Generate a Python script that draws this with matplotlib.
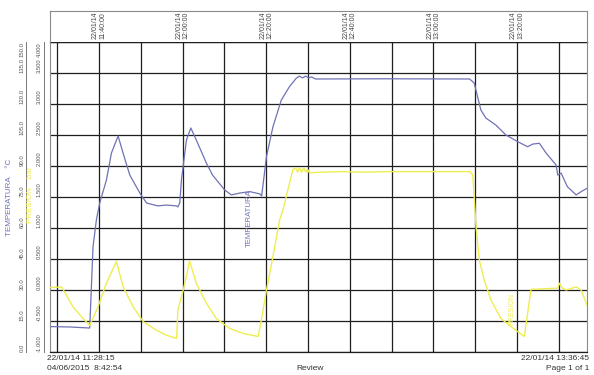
import matplotlib
matplotlib.use("Agg")
import matplotlib.pyplot as plt
import matplotlib.transforms as mtransforms
from matplotlib.lines import Line2D

plt.rcParams['font.family'] = ['Liberation Sans', 'DejaVu Sans']

# ====== Data (minutes after 22/01/14 11:28:15) ======
temp_t = [0.0, 4.8, 9.5, 10.3, 11.1, 11.9, 13.5, 14.7, 16.3, 17.7, 19.1, 21.5, 23.1,
          25.8, 27.9, 30.3, 30.6, 31.05, 31.45, 32.65, 33.7, 35.0, 37.4, 38.9, 41.8,
          43.4, 45.4, 47.8, 50.2, 50.65, 51.8, 53.35, 55.35, 57.3, 58.9, 59.7, 60.4,
          61.2, 61.9, 62.6, 63.5, 80.0, 100.4, 101.5, 103.1, 104.3, 106.7, 109.1, 111.9,
          114.3, 115.5, 117.1, 118.7, 121.1, 121.5, 122.3, 123.8, 125.9, 127.1, 128.5]
temp_c = [12.3, 12.1, 11.6, 51.0, 63.9, 72.1, 83.2, 96.3, 104.5, 94.8, 85.6, 76.9, 72.1,
          70.7, 71.1, 70.7, 70.2, 72.1, 83.2, 102.6, 108.4, 102.6, 91.5, 85.6, 78.4,
          76.0, 76.9, 77.6, 76.5, 75.5, 94.5, 109.0, 121.9, 128.4, 132.4, 133.5, 132.6,
          133.5, 132.6, 133.1, 132.1, 132.2, 132.1, 130.2, 117.1, 113.2, 109.8, 105.0, 101.8,
          99.3, 100.6, 101.0, 96.3, 90.5, 85.6, 86.6, 80.0, 76.0, 77.6, 79.2]

pres_t = [0.0, 2.8, 5.5, 7.9, 9.5, 11.5, 13.5, 15.9, 17.5, 19.9, 22.3, 25.5, 27.9,
          30.3, 30.6, 31.7, 32.65, 33.4, 35.0, 37.4, 39.8, 43.0, 46.2, 49.8, 50.6,
          51.8, 53.35, 54.95, 55.75, 58.1, 58.8, 59.25, 59.7, 60.2, 60.7, 61.2, 61.6,
          62.1, 65.0, 70.0, 75.0, 81.2, 90.0, 100.4, 101.15, 101.55, 101.95, 102.75, 103.9,
          105.5, 107.9, 110.3, 111.9, 113.5, 114.3, 115.1, 118.3, 121.5, 121.9, 122.6,
          123.5, 125.9, 127.1, 128.5]
pres_bar = [0.04, 0.05, -0.27, -0.46, -0.57, -0.27, 0.11, 0.46, 0.05, -0.27, -0.51, -0.65, -0.73,
            -0.78, -0.32, -0.05, 0.22, 0.47, 0.11, -0.21, -0.46, -0.62, -0.70, -0.75, -0.48,
            0.0, 0.54, 1.13, 1.29, 1.94, 1.97, 1.90, 1.97, 1.90, 1.97, 1.90, 1.95,
            1.89, 1.90, 1.91, 1.90, 1.91, 1.91, 1.91, 1.86, 1.45, 1.02, 0.48, 0.16,
            -0.16, -0.46, -0.59, -0.67, -0.75, -0.37, 0.01, 0.02, 0.03, 0.11, 0.03,
            0.0, 0.05, 0.0, -0.24]

temp_ticks = [0.0, 15.0, 30.0, 45.0, 60.0, 75.0, 90.0, 105.0, 120.0, 135.0, 150.0]
pres_ticks = [-1.0, -0.5, 0.0, 0.5, 1.0, 1.5, 2.0, 2.5, 3.0, 3.5, 4.0]
grid_minutes = [1.75, 11.75, 21.75, 31.75, 41.75, 51.75, 61.75, 71.75, 81.75, 91.75,
                101.75, 111.75, 121.75]
header_minutes = [11.75, 31.75, 51.75, 71.75, 91.75, 111.75]
header_labels = ["22/01/14\n11:40:00", "22/01/14\n12:00:00", "22/01/14\n12:20:00",
                 "22/01/14\n12:40:00", "22/01/14\n13:00:00", "22/01/14\n13:20:00"]
t_end = 128.5

W, H = 594, 375
BLUE = "#6f72b5"
YELLOW = "#eeee50"
FRAME = "#8a8a8a"
GRID = "#1e1e1e"


def fx(px):
    return px / W


def fy(py):
    return 1 - py / H


fig = plt.figure(figsize=(W / 100, H / 100), dpi=100)

# main plot
ax = fig.add_axes([fx(50), fy(352), fx(587) - fx(50), fy(42) - fy(352)])
ax.set_xlim(0, t_end)
ax.set_ylim(0, 150)
ax.set_xticks(grid_minutes)
ax.set_xticklabels([])
ax.set_yticks(temp_ticks)
ax.set_yticklabels(["%.1f" % v for v in temp_ticks])
ax.tick_params(axis='both', length=0)
ax.tick_params(axis='y', labelrotation=90, pad=18, labelsize=4.3, labelcolor="#555555")
ax.grid(True, color=GRID, lw=0.9)
ax.set_axisbelow(True)
for s in ["left", "right"]:
    ax.spines[s].set_color(FRAME)
for s in ["top", "bottom"]:
    ax.spines[s].set_color(GRID)
    ax.spines[s].set_linewidth(0.9)
labels = ax.get_yticklabels()
for lbl in labels:
    lbl.set_va("bottom")
labels[-1].set_va("top")

ax.plot(temp_t, temp_c, color=BLUE, lw=0.9, zorder=3)

ax2 = ax.twinx()
ax2.set_ylim(-1, 4)
ax2.yaxis.tick_left()
ax2.set_yticks(pres_ticks)
ax2.set_yticklabels(["%.3f" % v for v in pres_ticks])
ax2.tick_params(axis='y', length=0, labelrotation=90, pad=6, labelsize=4.2, labelcolor="#555555")
for sp in ax2.spines.values():
    sp.set_visible(False)
labels2 = ax2.get_yticklabels()
for lbl in labels2:
    lbl.set_va("bottom")
labels2[-1].set_va("top")

ax2.plot(pres_t, pres_bar, color=YELLOW, lw=1.0, zorder=3)

# series names inside the plot
ax.text(47.8, 65, "TEMPERATURA", color=BLUE, rotation=90, fontsize=5.6,
        ha="center", va="center")
ax2.text(110.6, -0.3, "PRESION", color=YELLOW, rotation=90, fontsize=5.0,
         ha="center", va="center")

# header strip with time labels
hax = fig.add_axes([fx(50), fy(42), fx(587) - fx(50), fy(11) - fy(42)], sharex=ax)
hax.set_yticks([])
hax.tick_params(axis='x', length=0, labelbottom=False)
for s in ["left", "right", "top"]:
    hax.spines[s].set_color(FRAME)
hax.spines["bottom"].set_visible(False)
trans = mtransforms.blended_transform_factory(hax.transData, hax.transAxes)
for m, lab in zip(header_minutes, header_labels):
    hax.text(m, 0.97, lab, transform=trans, rotation=90, ha="center", va="top",
             fontsize=5.0, linespacing=1.05, color="#444444")

# axis names on the left
fig.text(fx(10), fy(197), "TEMPERATURA    \u00b0C", rotation=90, color=BLUE,
         fontsize=5.8, ha="center", va="center")
fig.text(fx(30), fy(195), "PRESION    bar", rotation=90, color=YELLOW,
         fontsize=5.8, ha="center", va="center")

# little scale bars next to the tick columns
for xp in (26, 44):
    fig.add_artist(Line2D([fx(xp), fx(xp)], [fy(42), fy(352)], color="#777777", lw=0.7))

# footer
fig.text(fx(47), fy(359), "22/01/14 11:28:15", fontsize=6, color="#333333", va="center")
fig.text(fx(47), fy(368), "04/06/2015  8:42:54", fontsize=6, color="#333333", va="center")
fig.text(fx(310), fy(368), "Review", fontsize=6, color="#333333", ha="center", va="center")
fig.text(fx(589), fy(359), "22/01/14 13:36:45", fontsize=6, color="#333333", ha="right", va="center")
fig.text(fx(589), fy(368), "Page 1 of 1", fontsize=6, color="#333333", ha="right", va="center")

fig.savefig("out.png", dpi=100)
